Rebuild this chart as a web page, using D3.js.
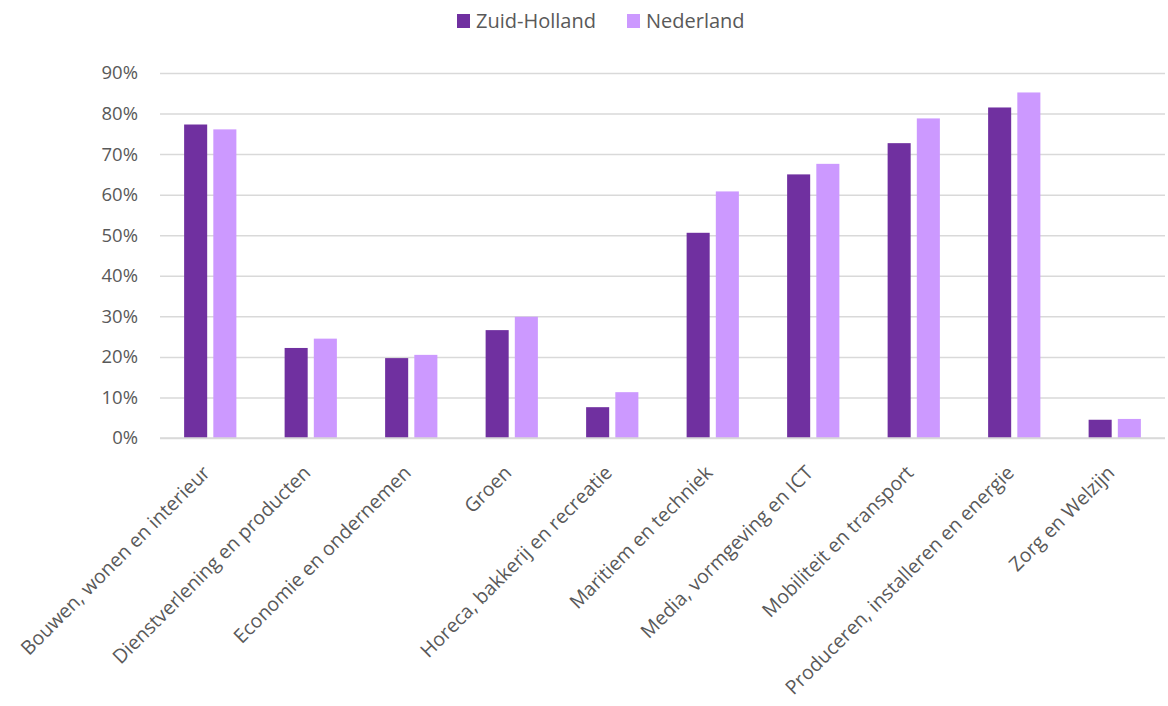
<!DOCTYPE html>
<html>
<head>
<meta charset="utf-8">
<script src="https://cdn.jsdelivr.net/npm/d3@7"></script>
<style>
  body { margin: 0; background: #fff; }
  text { font-family: "Open Sans", sans-serif; fill: #595959; }
</style>
</head>
<body>
<div class="barchart"></div>
<script>
const categories = [
    "Bouwen, wonen en interieur",
    "Dienstverlening en producten",
    "Economie en ondernemen",
    "Groen",
    "Horeca, bakkerij en recreatie",
    "Maritiem en techniek",
    "Media, vormgeving en ICT",
    "Mobiliteit en transport",
    "Produceren, installeren en energie",
    "Zorg en Welzijn"
];
const seriesNames = ["Zuid-Holland", "Nederland"];
const zuidHolland = [0.773, 0.222, 0.197, 0.266, 0.076, 0.506, 0.650, 0.727, 0.815, 0.045];
const nederland   = [0.761, 0.245, 0.205, 0.299, 0.113, 0.608, 0.676, 0.788, 0.852, 0.047];
const yTicks = [0, 0.1, 0.2, 0.3, 0.4, 0.5, 0.6, 0.7, 0.8, 0.9];
const colors = ["#7030A0", "#CC99FF"];

const W = 1168, H = 706;
const margin = {top: 73, right: 3, bottom: 268, left: 160};
const width = W - margin.left - margin.right;
const height = H - margin.top - margin.bottom;

let svg = d3.select('.barchart')
    .append('svg')
    .attr('width', W)
    .attr('height', H);

let g = svg.append("g")
    .attr("transform", "translate(" + margin.left + "," + margin.top + ")");

// scales
let xScale = d3.scaleBand()
    .domain(categories)
    .range([0, width])
    .paddingInner(0.48)
    .paddingOuter(0.24);
let xInner = d3.scaleBand()
    .domain(seriesNames)
    .range([0, xScale.bandwidth()])
    .paddingInner(0.21);
let yScale = d3.scaleLinear()
    .domain([0, 0.9])
    .range([height, 0]);

// gridlines + y labels
let yAxis = g.append("g")
    .call(d3.axisLeft(yScale)
        .tickValues(yTicks)
        .tickSize(-width)
        .tickPadding(22)
        .tickFormat(d3.format(".0%")));
yAxis.select(".domain").remove();
yAxis.selectAll("line").attr("stroke", "#d9d9d9").attr("stroke-width", 1.5);
yAxis.selectAll("text")
    .style("font-size", "18.5px")
    .style("fill", "#595959")
    .attr("font-family", null);

// bars
const series = [zuidHolland, nederland];
series.forEach(function(vals, s){
    g.selectAll(".bar" + s)
        .data(vals)
        .enter()
        .append("rect")
        .attr("class", "bar" + s)
        .attr("x", function(d, i){ return xScale(categories[i]) + xInner(seriesNames[s]); })
        .attr("y", function(d){ return yScale(d); })
        .attr("width", xInner.bandwidth())
        .attr("height", function(d){ return height - yScale(d); })
        .attr("fill", colors[s]);
});

// x axis line
g.append("line")
    .attr("x1", 0).attr("x2", width)
    .attr("y1", height).attr("y2", height)
    .attr("stroke", "#d9d9d9").attr("stroke-width", 1.5);

// category labels rotated
g.selectAll(".cat")
    .data(categories)
    .enter()
    .append("text")
    .attr("class", "cat")
    .attr("text-anchor", "end")
    .style("font-size", "19.5px")
    .attr("transform", function(d){
        let cx = xScale(d) + xScale.bandwidth() / 2;
        return "translate(" + (cx + 1) + "," + (height + 36) + ") rotate(-45)";
    })
    .text(function(d){ return d; });

// legend
let legend = svg.append("g");
const legendX = [457, 627];
seriesNames.forEach(function(name, s){
    legend.append("rect")
        .attr("x", legendX[s]).attr("y", 14)
        .attr("width", 13).attr("height", 14)
        .attr("fill", colors[s]);
    legend.append("text")
        .attr("x", legendX[s] + 19).attr("y", 28)
        .style("font-size", "20px")
        .text(name);
});
</script>
</body>
</html>
